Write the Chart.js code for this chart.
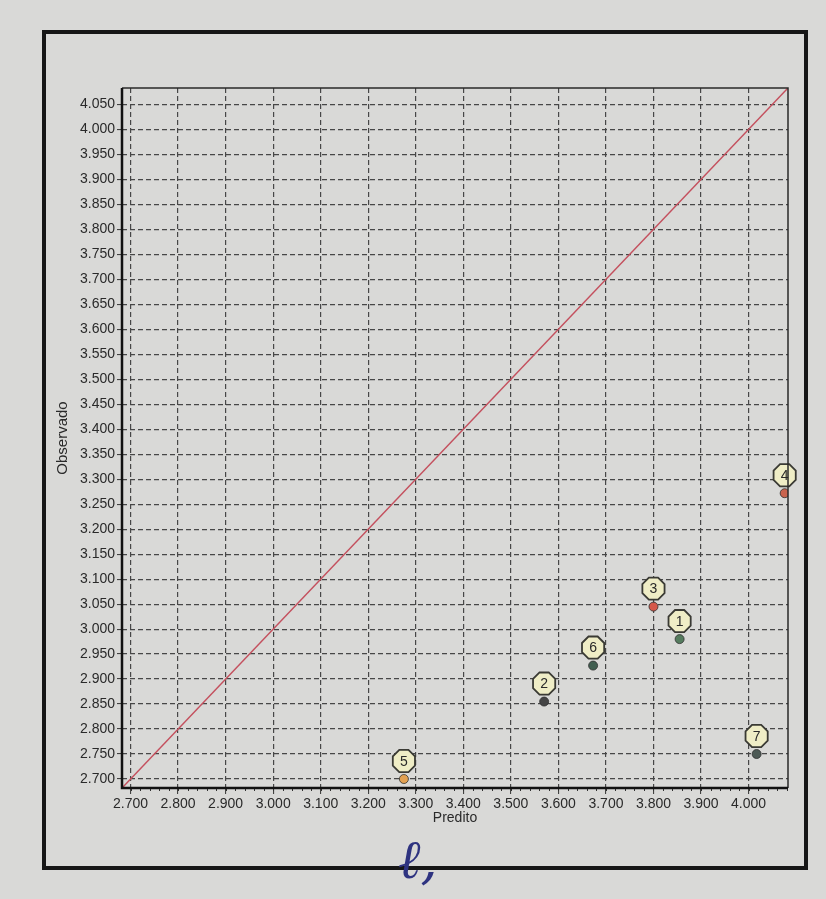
<!DOCTYPE html>
<html>
<head>
<meta charset="utf-8">
<script src="https://cdn.jsdelivr.net/npm/chart.js@4.4.1/dist/chart.umd.min.js"></script>
<style>
  html, body { margin: 0; padding: 0; background: #d9d9d7; }
  #wrap { position: relative; width: 826px; height: 899px; overflow: hidden; }
  #frame { position: absolute; left: 42px; top: 30px; width: 758px; height: 832px; border: 4px solid #161616; }
  #c { position: absolute; left: 0; top: 0; }
  #sign { position: absolute; left: 398px; top: 828px; font-family: 'DejaVu Serif', serif; font-style: italic; font-size: 54px; color: #2e3380; }
</style>
</head>
<body>
<div id="wrap">
  <div id="frame"></div>
  <canvas id="c" width="826" height="899"></canvas>
  <div id="sign">ℓ,</div>
</div>
<script>
// ---- data ----
const pointLabels = ['1', '2', '3', '4', '5', '6', '7'];
const predito    = [3.855, 3.570, 3.800, 4.076, 3.275, 3.673, 4.017];
const observado  = [2.980, 2.855, 3.045, 3.272, 2.700, 2.927, 2.750];
const pointColors = ['#557c5e', '#454545', '#d4584a', '#c9634e', '#e2a152', '#415f50', '#4d5a55'];
const xTicks = [2.7, 2.8, 2.9, 3.0, 3.1, 3.2, 3.3, 3.4, 3.5, 3.6, 3.7, 3.8, 3.9, 4.0];
const yTicks = [2.70, 2.75, 2.80, 2.85, 2.90, 2.95, 3.00, 3.05, 3.10, 3.15, 3.20, 3.25, 3.30, 3.35,
                3.40, 3.45, 3.50, 3.55, 3.60, 3.65, 3.70, 3.75, 3.80, 3.85, 3.90, 3.95, 4.00, 4.05];
const axisMin = 2.682;
const axisMax = 4.083;
const refLineX = [2.682, 4.083];
const refLineY = [2.682, 4.083];

const FONT = "'Liberation Sans', Arial, sans-serif";

const bubblePlugin = {
  id: 'bubbles',
  afterDatasetsDraw(chart) {
    const ctx = chart.ctx;
    const meta = chart.getDatasetMeta(1);
    ctx.save();
    meta.data.forEach((el, i) => {
      const cx = el.x, cy = el.y - 18;
      ctx.beginPath();
      const r = 12;
      for (let k = 0; k < 8; k++) {
        const a = Math.PI / 8 + k * Math.PI / 4;
        const px = cx + r * Math.cos(a), py = cy + r * Math.sin(a);
        if (k === 0) ctx.moveTo(px, py); else ctx.lineTo(px, py);
      }
      ctx.closePath();
      ctx.fillStyle = '#efedc6';
      ctx.fill();
      ctx.lineWidth = 1.8;
      ctx.strokeStyle = '#3a3a34';
      ctx.stroke();
      ctx.fillStyle = '#2a2a2a';
      ctx.font = '14px ' + FONT;
      ctx.textAlign = 'center';
      ctx.textBaseline = 'middle';
      ctx.fillText(pointLabels[i], cx, cy + 1);
    });
    ctx.restore();
  }
};

const framePlugin = {
  id: 'plotFrame',
  afterDraw(chart) {
    const {ctx, chartArea: a, scales} = chart;
    ctx.save();
    // minor ticks on x axis
    ctx.strokeStyle = '#333';
    ctx.lineWidth = 1;
    ctx.beginPath();
    for (let v = 2.70; v <= 4.081; v += 0.02) {
      const px = Math.round(scales.x.getPixelForValue(v)) + 0.5;
      ctx.moveTo(px, a.bottom);
      ctx.lineTo(px, a.bottom + 3);
    }
    ctx.stroke();
    // thin top/right border
    ctx.strokeStyle = '#2a2a2a';
    ctx.lineWidth = 1.5;
    ctx.beginPath();
    ctx.moveTo(a.left, a.top);
    ctx.lineTo(a.right, a.top);
    ctx.lineTo(a.right, a.bottom);
    ctx.stroke();
    // thick left/bottom axes
    ctx.strokeStyle = '#111';
    ctx.lineWidth = 2.5;
    ctx.beginPath();
    ctx.moveTo(a.left, a.top);
    ctx.lineTo(a.left, a.bottom);
    ctx.lineTo(a.right, a.bottom);
    ctx.stroke();
    ctx.restore();
  }
};

new Chart(document.getElementById('c'), {
  type: 'scatter',
  data: {
    datasets: [
      {
        type: 'line',
        data: refLineX.map((x, i) => ({x, y: refLineY[i]})),
        borderColor: '#c4505e',
        borderWidth: 1.5,
        pointRadius: 0,
        fill: false,
        clip: 0
      },
      {
        data: predito.map((x, i) => ({x, y: observado[i]})),
        backgroundColor: pointColors,
        borderColor: '#2e2e2e',
        borderWidth: 0.8,
        pointRadius: 4.5
      }
    ]
  },
  options: {
    responsive: false,
    animation: false,
    events: [],
    layout: { padding: { left: 50, top: 88, right: 38, bottom: 68 } },
    plugins: { legend: { display: false }, tooltip: { enabled: false } },
    scales: {
      x: {
        type: 'linear',
        min: axisMin,
        max: axisMax,
        afterBuildTicks: s => { s.ticks = xTicks.map(v => ({value: v})); },
        afterFit: s => { s.height = 43; },
        ticks: {
          color: '#2a2a2a',
          font: { family: FONT, size: 14 },
          padding: 2,
          maxRotation: 0,
          autoSkip: false,
          callback: v => Number(v).toFixed(3)
        },
        grid: { color: '#474747', lineWidth: 1.2, tickLength: 6, tickColor: '#333', tickWidth: 1 },
        border: { display: false, dash: [5, 3] },
        title: { display: true, text: 'Predito', color: '#2a2a2a', font: { family: FONT, size: 14 }, padding: { top: 1, bottom: 4 } }
      },
      y: {
        type: 'linear',
        min: axisMin,
        max: axisMax,
        afterBuildTicks: s => { s.ticks = yTicks.map(v => ({value: v})); },
        afterFit: s => { s.width = 72; },
        ticks: {
          color: '#2a2a2a',
          font: { family: FONT, size: 14 },
          padding: 2,
          autoSkip: false,
          callback: v => Number(v).toFixed(3)
        },
        grid: { color: '#474747', lineWidth: 1.2, tickLength: 5, tickColor: '#333', tickWidth: 1 },
        border: { display: false, dash: [5, 3] },
        title: { display: true, text: 'Observado', color: '#2a2a2a', font: { family: FONT, size: 15 }, padding: { top: 4, bottom: 4 } }
      }
    }
  },
  plugins: [bubblePlugin, framePlugin]
});
</script>
</body>
</html>
